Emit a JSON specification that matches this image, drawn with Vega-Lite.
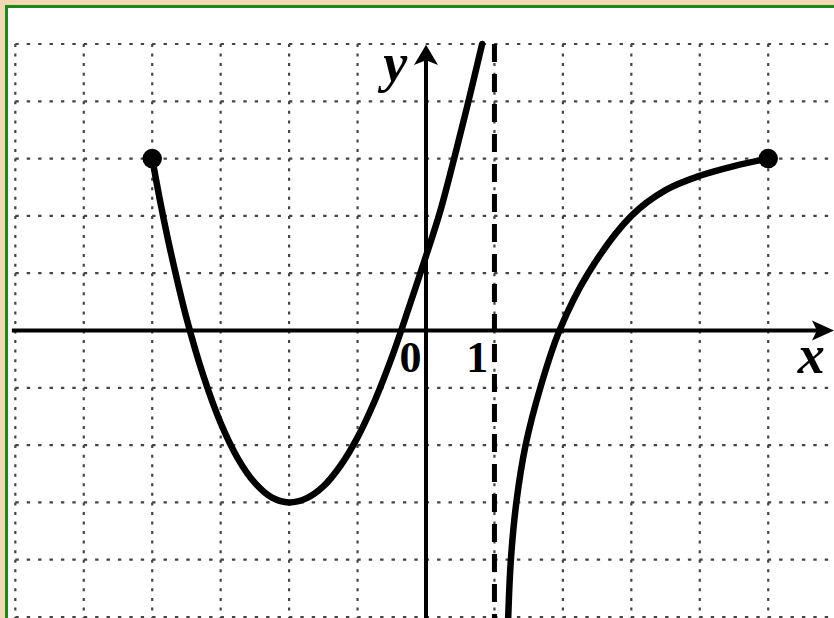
{
  "$schema": "https://vega.github.io/schema/vega-lite/v6.json",
  "width": 826,
  "height": 610,
  "autosize": {"type": "none"},
  "padding": {"left": 8, "top": 8, "right": 0, "bottom": 0},
  "background": "#F3D6B2",
  "config": {"view": {"fill": "white", "stroke": null}},
  "datasets": {
    "one": [{}],
    "vgrid": [{"g": -6}, {"g": -5}, {"g": -4}, {"g": -3}, {"g": -2}, {"g": -1}, {"g": 1}, {"g": 2}, {"g": 3}, {"g": 4}, {"g": 5}],
    "hgrid": [{"g": -5}, {"g": -4}, {"g": -3}, {"g": -2}, {"g": -1}, {"g": 1}, {"g": 2}, {"g": 3}, {"g": 4}, {"g": 5}],
    "curve": [
      {"seg": "a", "x": -4, "y": 3},
      {"seg": "a", "x": -3.875, "y": 2.2},
      {"seg": "a", "x": -3.75, "y": 1.48},
      {"seg": "a", "x": -3.5, "y": 0.22},
      {"seg": "a", "x": -3.25, "y": -0.8},
      {"seg": "a", "x": -3, "y": -1.615},
      {"seg": "a", "x": -2.75, "y": -2.23},
      {"seg": "a", "x": -2.5, "y": -2.66},
      {"seg": "a", "x": -2.25, "y": -2.916},
      {"seg": "a", "x": -2, "y": -3},
      {"seg": "a", "x": -1.75, "y": -2.93},
      {"seg": "a", "x": -1.5, "y": -2.72},
      {"seg": "a", "x": -1.25, "y": -2.36},
      {"seg": "a", "x": -1.0, "y": -1.865},
      {"seg": "a", "x": -0.75, "y": -1.23},
      {"seg": "a", "x": -0.5, "y": -0.47},
      {"seg": "a", "x": -0.25, "y": 0.4},
      {"seg": "a", "x": 0, "y": 1.3},
      {"seg": "a", "x": 0.2, "y": 2.05},
      {"seg": "a", "x": 0.4, "y": 2.95},
      {"seg": "a", "x": 0.6, "y": 3.9},
      {"seg": "a", "x": 0.82, "y": 5},
      {"seg": "b", "x": 1.2, "y": -5.05},
      {"seg": "b", "x": 1.24, "y": -4},
      {"seg": "b", "x": 1.32, "y": -3},
      {"seg": "b", "x": 1.455, "y": -2},
      {"seg": "b", "x": 1.67, "y": -1},
      {"seg": "b", "x": 1.95, "y": 0},
      {"seg": "b", "x": 2.37, "y": 1},
      {"seg": "b", "x": 3.0, "y": 2},
      {"seg": "b", "x": 3.5, "y": 2.45},
      {"seg": "b", "x": 4.0, "y": 2.7},
      {"seg": "b", "x": 4.5, "y": 2.87},
      {"seg": "b", "x": 5.0, "y": 3}
    ],
    "ends": [{"x": -4, "y": 3}, {"x": 5, "y": 3}],
    "labels": [
      {"t": "0", "x": -0.227, "y": -0.73},
      {"t": "1", "x": 0.75, "y": -0.73}
    ],
    "axlabels": [
      {"t": "x", "x": 5.63, "y": -0.74},
      {"t": "y", "x": -0.45, "y": 4.35}
    ]
  },
  "layer": [
    {
      "data": {"name": "vgrid"},
      "mark": {"type": "rule", "stroke": "#444444", "strokeWidth": 2.2, "strokeDash": [3, 6.55]},
      "encoding": {
        "x": {"field": "g", "type": "quantitative", "scale": {"domain": [-6.107, 5.961], "nice": false, "zero": false}, "axis": null},
        "y": {"datum": 5, "scale": {"domain": [-5.017, 5.628], "nice": false, "zero": false}, "axis": null},
        "y2": {"datum": -5.02}
      }
    },
    {
      "data": {"name": "hgrid"},
      "mark": {"type": "rule", "stroke": "#444444", "strokeWidth": 2.2, "strokeDash": [3.4, 8]},
      "encoding": {
        "y": {"field": "g", "type": "quantitative", "scale": {"domain": [-5.017, 5.628], "nice": false, "zero": false}, "axis": null},
        "x": {"datum": -6, "scale": {"domain": [-6.107, 5.961], "nice": false, "zero": false}, "axis": null},
        "x2": {"datum": 5.961}
      }
    },
    {
      "data": {"name": "one"},
      "mark": {"type": "rule", "stroke": "black", "strokeWidth": 5, "strokeDash": [18, 12]},
      "encoding": {
        "x": {"datum": 1, "scale": {"domain": [-6.107, 5.961], "nice": false, "zero": false}, "axis": null},
        "y": {"datum": 5, "scale": {"domain": [-5.017, 5.628], "nice": false, "zero": false}, "axis": null},
        "y2": {"datum": -5.02}
      }
    },
    {
      "data": {"name": "one"},
      "mark": {"type": "rule", "stroke": "black", "strokeWidth": 4},
      "encoding": {
        "x": {"datum": -6.05, "scale": {"domain": [-6.107, 5.961], "nice": false, "zero": false}, "axis": null},
        "x2": {"datum": 5.85},
        "y": {"datum": 0, "scale": {"domain": [-5.017, 5.628], "nice": false, "zero": false}, "axis": null}
      }
    },
    {
      "data": {"name": "one"},
      "mark": {"type": "rule", "stroke": "black", "strokeWidth": 4},
      "encoding": {
        "x": {"datum": 0, "scale": {"domain": [-6.107, 5.961], "nice": false, "zero": false}, "axis": null},
        "y": {"datum": -5.02, "scale": {"domain": [-5.017, 5.628], "nice": false, "zero": false}, "axis": null},
        "y2": {"datum": 4.75}
      }
    },
    {
      "data": {"name": "one"},
      "mark": {"type": "point", "shape": "M1,0 L-1,-0.9 L-0.55,0 L-1,0.9 Z", "filled": true, "color": "black", "opacity": 1, "size": 484},
      "encoding": {
        "x": {"datum": 5.8, "scale": {"domain": [-6.107, 5.961], "nice": false, "zero": false}, "axis": null},
        "y": {"datum": 0, "scale": {"domain": [-5.017, 5.628], "nice": false, "zero": false}, "axis": null}
      }
    },
    {
      "data": {"name": "one"},
      "mark": {"type": "point", "shape": "M0,-0.85 L1,0.85 L0,0.45 L-1,0.85 Z", "filled": true, "color": "black", "opacity": 1, "size": 576},
      "encoding": {
        "x": {"datum": 0, "scale": {"domain": [-6.107, 5.961], "nice": false, "zero": false}, "axis": null},
        "y": {"datum": 4.81, "scale": {"domain": [-5.017, 5.628], "nice": false, "zero": false}, "axis": null}
      }
    },
    {
      "data": {"name": "curve"},
      "mark": {"type": "line", "color": "black", "strokeWidth": 6.5, "interpolate": "catmull-rom", "strokeCap": "round", "strokeJoin": "round"},
      "encoding": {
        "x": {"field": "x", "type": "quantitative", "scale": {"domain": [-6.107, 5.961], "nice": false, "zero": false}, "axis": null},
        "y": {"field": "y", "type": "quantitative", "scale": {"domain": [-5.017, 5.628], "nice": false, "zero": false}, "axis": null},
        "detail": {"field": "seg"}
      }
    },
    {
      "data": {"name": "ends"},
      "mark": {"type": "circle", "color": "black", "opacity": 1, "size": 380},
      "encoding": {
        "x": {"field": "x", "type": "quantitative", "scale": {"domain": [-6.107, 5.961], "nice": false, "zero": false}, "axis": null},
        "y": {"field": "y", "type": "quantitative", "scale": {"domain": [-5.017, 5.628], "nice": false, "zero": false}, "axis": null}
      }
    },
    {
      "data": {"name": "labels"},
      "mark": {"type": "text", "font": "Liberation Serif", "fontWeight": "bold", "fontSize": 44, "align": "center", "baseline": "alphabetic", "color": "black"},
      "encoding": {
        "x": {"field": "x", "type": "quantitative", "scale": {"domain": [-6.107, 5.961], "nice": false, "zero": false}, "axis": null},
        "y": {"field": "y", "type": "quantitative", "scale": {"domain": [-5.017, 5.628], "nice": false, "zero": false}, "axis": null},
        "text": {"field": "t"}
      }
    },
    {
      "data": {"name": "axlabels"},
      "mark": {"type": "text", "font": "Liberation Serif", "fontWeight": "bold", "fontStyle": "italic", "fontSize": 54, "align": "center", "baseline": "alphabetic", "color": "black"},
      "encoding": {
        "x": {"field": "x", "type": "quantitative", "scale": {"domain": [-6.107, 5.961], "nice": false, "zero": false}, "axis": null},
        "y": {"field": "y", "type": "quantitative", "scale": {"domain": [-5.017, 5.628], "nice": false, "zero": false}, "axis": null},
        "text": {"field": "t"}
      }
    },
    {
      "data": {"name": "one"},
      "mark": {"type": "rule", "stroke": "#1A8A1A", "strokeWidth": 3},
      "encoding": {
        "x": {"datum": -6.129, "scale": {"domain": [-6.107, 5.961], "nice": false, "zero": false}, "axis": null},
        "y": {"datum": 5.68, "scale": {"domain": [-5.017, 5.628], "nice": false, "zero": false}, "axis": null},
        "y2": {"datum": -5.02}
      }
    },
    {
      "data": {"name": "one"},
      "mark": {"type": "rule", "stroke": "#1A8A1A", "strokeWidth": 3},
      "encoding": {
        "y": {"datum": 5.654, "scale": {"domain": [-5.017, 5.628], "nice": false, "zero": false}, "axis": null},
        "x": {"datum": -6.15, "scale": {"domain": [-6.107, 5.961], "nice": false, "zero": false}, "axis": null},
        "x2": {"datum": 5.961}
      }
    }
  ]
}
